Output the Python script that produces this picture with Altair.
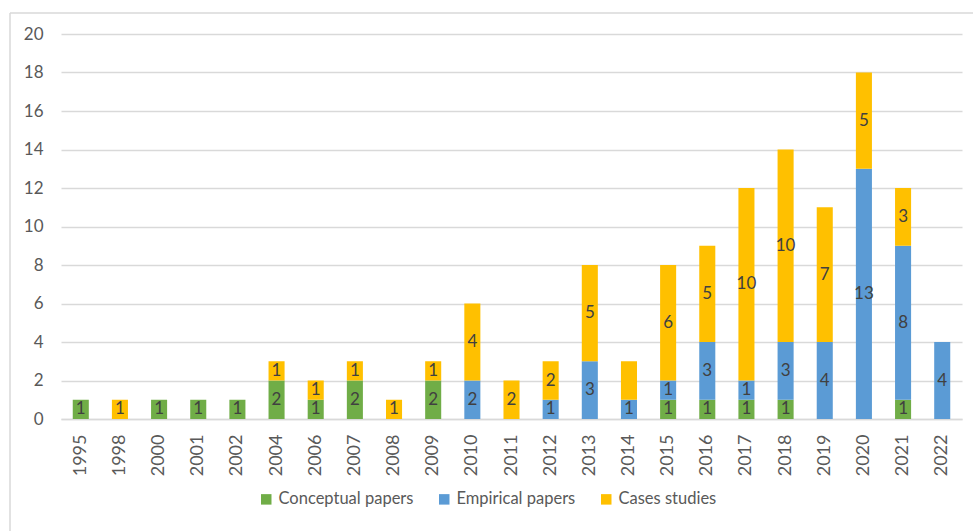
import altair as alt
import pandas as pd

years = ["1995", "1998", "2000", "2001", "2002", "2004", "2006", "2007", "2008", "2009", "2010",
         "2011", "2012", "2013", "2014", "2015", "2016", "2017", "2018", "2019", "2020", "2021", "2022"]
conceptual = [1, 0, 1, 1, 1, 2, 1, 2, 0, 2, 0, 0, 0, 0, 0, 1, 1, 1, 1, 0, 0, 1, 0]
empirical = [0, 0, 0, 0, 0, 0, 0, 0, 0, 0, 2, 0, 1, 3, 1, 1, 3, 1, 3, 4, 13, 8, 4]
cases = [0, 1, 0, 0, 0, 1, 1, 1, 1, 1, 4, 2, 2, 5, 2, 6, 5, 10, 10, 7, 5, 3, 0]
series_names = ["Conceptual papers", "Empirical papers", "Cases studies"]
series_colors = ["#70AD47", "#5B9BD5", "#FFC000"]
y_ticks = [0, 2, 4, 6, 8, 10, 12, 14, 16, 18, 20]
unlabeled = [("2014", "Cases studies")]

rows = []
for i, y in enumerate(years):
    base = 0
    for k, (name, vals) in enumerate(zip(series_names, [conceptual, empirical, cases])):
        v = vals[i]
        if v > 0:
            rows.append({"year": y, "series": name, "order": k, "value": v,
                         "y0": base, "y1": base + v, "mid": base + v / 2,
                         "label": "" if (y, name) in unlabeled else str(v)})
            base += v
df = pd.DataFrame(rows)

FONT = "Lato"
y_scale = alt.Scale(domain=[0, 20], nice=False)
x_scale = alt.Scale(paddingInner=0.59, paddingOuter=0.3)
x_axis = alt.Axis(labelAngle=-90, labelFontSize=18, labelColor="#595959", labelFont=FONT,
                  labelPadding=15, ticks=False, domainColor="#D9D9D9", domainWidth=1.5)
y_axis = alt.Axis(values=y_ticks, tickCount=30, format="d", labelFontSize=17, labelColor="#595959",
                  labelFont=FONT, labelPadding=18, ticks=False, domain=False,
                  labelOverlap=False, gridColor="#D9D9D9", gridWidth=1.5)

bars = alt.Chart(df).mark_bar().encode(
    x=alt.X("year:N", sort=years, title=None, scale=x_scale, axis=x_axis),
    y=alt.Y("y0:Q", title=None, scale=y_scale, axis=y_axis),
    y2="y1:Q",
    color=alt.Color("series:N", sort=series_names,
                    scale=alt.Scale(domain=series_names, range=series_colors),
                    legend=alt.Legend(title=None, orient="none", direction="horizontal",
                                      legendX=197, legendY=457, symbolType="square",
                                      symbolSize=110, symbolStrokeWidth=0, labelFontSize=16.5,
                                      labelFont=FONT, labelColor="#595959", columnPadding=22,
                                      labelOffset=4)),
    order="order:Q",
)

labels = alt.Chart(df).mark_text(fontSize=17, font=FONT, color="#404040").encode(
    x=alt.X("year:N", sort=years, title=None, scale=x_scale, axis=x_axis),
    y=alt.Y("mid:Q", title=None, scale=y_scale, axis=y_axis),
    text="label:N",
)

frame_top = alt.Chart(pd.DataFrame({"a": [0]})).mark_rule(color="#D9D9D9", strokeWidth=1.5, clip=False).encode(
    x=alt.value(-51), x2=alt.value(912), y=alt.value(-21))
frame_left = alt.Chart(pd.DataFrame({"a": [0]})).mark_rule(color="#D9D9D9", strokeWidth=1.5, clip=False).encode(
    x=alt.value(-51), y=alt.value(-21), y2=alt.value(497))

chart = alt.layer(bars, labels, frame_top, frame_left).properties(
    width=901, height=385,
    background="white",
    autosize=alt.AutoSizeParams(type="none"),
    padding={"left": 61, "top": 34, "right": 11, "bottom": 112},
).configure_view(stroke=None)

chart.save("out.html", embed_options={"renderer": "svg", "actions": False})
